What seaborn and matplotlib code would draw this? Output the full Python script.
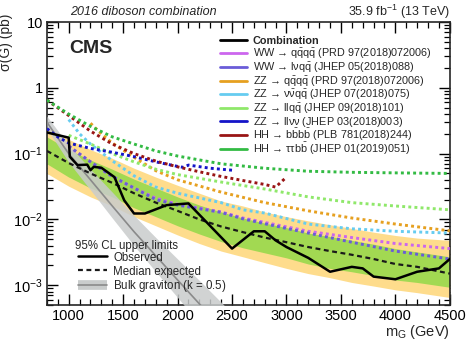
import numpy as np
import pandas as pd
import matplotlib
matplotlib.use("Agg")
import matplotlib.pyplot as plt
import seaborn as sns
from matplotlib.lines import Line2D
from matplotlib.ticker import MultipleLocator, FixedLocator, FixedFormatter, LogLocator, NullFormatter

# ---------------- data ----------------
obs_mass = [800, 1000, 1010, 1080, 1170, 1200, 1230, 1300, 1420, 1510, 1600, 1700, 1900, 2100,
            2500, 2700, 2800, 2900, 3000, 3200, 3400, 3600, 3700, 3800, 4000, 4200, 4400, 4500]
obs_limit = [0.21, 0.175, 0.09, 0.067, 0.068, 0.056, 0.063, 0.061, 0.044, 0.0195, 0.0123, 0.0123,
             0.0165, 0.0175, 0.0036, 0.0066, 0.0066, 0.0048, 0.0038, 0.0026, 0.0016, 0.0019,
             0.0018, 0.00135, 0.00123, 0.0016, 0.0018, 0.0025]

exp_mass = [800, 1000, 1200, 1400, 1600, 1800, 2000, 2200, 2400, 2600, 2800, 3000, 3200, 3400,
            3600, 3800, 4000, 4200, 4500]
exp_limit = [0.11, 0.072, 0.050, 0.036, 0.025, 0.018, 0.0135, 0.0100, 0.0078, 0.0064, 0.0053,
             0.0045, 0.0038, 0.0033, 0.0029, 0.0025, 0.0021, 0.0019, 0.0015]
exp_up1 = [0.18, 0.115, 0.080, 0.058, 0.041, 0.030, 0.022, 0.0165, 0.013, 0.0105, 0.0088, 0.0075,
           0.0062, 0.0055, 0.0048, 0.0042, 0.0036, 0.0032, 0.0027]
exp_dn1 = [0.07, 0.044, 0.030, 0.022, 0.015, 0.011, 0.0080, 0.0060, 0.0046, 0.0037, 0.0031,
           0.0026, 0.0021, 0.0018, 0.0016, 0.0014, 0.0012, 0.0011, 0.00093]
exp_up2 = [0.26, 0.165, 0.115, 0.085, 0.060, 0.044, 0.033, 0.025, 0.019, 0.016, 0.013, 0.011,
           0.0095, 0.0083, 0.0073, 0.0064, 0.0057, 0.0052, 0.0048]
exp_dn2 = [0.05, 0.032, 0.022, 0.016, 0.011, 0.008, 0.0058, 0.0043, 0.0033, 0.0027, 0.0022,
           0.0018, 0.0015, 0.0013, 0.0011, 0.00097, 0.00085, 0.00077, 0.00065]

grav_mass = [800, 1000, 1200, 1400, 1600, 1800, 2000, 2200, 2400, 2600]
grav_xsec = [0.30, 0.10, 0.040, 0.016, 0.0065, 0.0028, 0.0012, 0.00052, 0.00023, 0.0001]
grav_up = [0.37, 0.135, 0.058, 0.026, 0.0115, 0.0053, 0.0025, 0.00118, 0.00055, 0.00025]
grav_dn = [0.24, 0.074, 0.028, 0.0105, 0.0040, 0.0016, 0.00065, 0.00026, 0.00011, 0.00005]

ww_qqqq_mass = [1000, 1200, 1400, 1600, 1800, 2000, 2400, 2600, 2800, 3200, 3600, 4000, 4500]
ww_qqqq_lim = [0.13, 0.075, 0.045, 0.030, 0.021, 0.017, 0.013, 0.0105, 0.009, 0.0066, 0.0053, 0.0043, 0.0036]
ww_lvqq_mass = [1000, 1200, 1400, 1600, 1800, 2000, 2400, 2600, 2800, 3200, 3600, 4000, 4500]
ww_lvqq_lim = [0.13, 0.075, 0.045, 0.030, 0.020, 0.0165, 0.0128, 0.0102, 0.0086, 0.0062, 0.0045, 0.0033, 0.0025]
zz_qqqq_mass = [1200, 1300, 1400, 1600, 1800, 2000, 2400, 2800, 3200, 3600, 4000, 4500]
zz_qqqq_lim = [0.29, 0.20, 0.145, 0.088, 0.055, 0.040, 0.026, 0.018, 0.0135, 0.0105, 0.0085, 0.0067]
zz_vvqq_mass = [1000, 1100, 1200, 1400, 1600, 1800, 2000, 2400, 2600, 2800, 3200, 3600, 4000, 4500]
zz_vvqq_lim = [0.33, 0.20, 0.14, 0.078, 0.046, 0.031, 0.025, 0.018, 0.014, 0.0125, 0.0085, 0.0072, 0.0066, 0.0062]
zz_llqq_mass = [1000, 1200, 1400, 1600, 1800, 2000, 2400, 2800, 3200, 3600, 4000, 4500]
zz_llqq_lim = [0.19, 0.14, 0.10, 0.075, 0.058, 0.048, 0.037, 0.029, 0.022, 0.018, 0.016, 0.014]
zz_llvv_mass = [800, 900, 1000, 1200, 1400, 1600, 1800, 2000, 2050, 2100, 2300, 2500]
zz_llvv_lim = [0.24, 0.18, 0.145, 0.12, 0.105, 0.09, 0.075, 0.064, 0.062, 0.067, 0.060, 0.056]
hh_bbbb_mass = [800, 1000, 1200, 1400, 1600, 1800, 2000, 2200, 2400, 2600, 2800, 2900, 3000]
hh_bbbb_lim = [0.65, 0.38, 0.22, 0.14, 0.10, 0.077, 0.063, 0.053, 0.045, 0.039, 0.034, 0.031, 0.044]
hh_ttbb_mass = [800, 1000, 1200, 1400, 1600, 1800, 2000, 2400, 2800, 3200, 3600, 4000, 4500]
hh_ttbb_lim = [0.65, 0.40, 0.26, 0.18, 0.14, 0.11, 0.092, 0.070, 0.060, 0.054, 0.052, 0.051, 0.050]

channel_labels = [
    r"WW → $\mathrm{q\bar{q}q\bar{q}}$ (PRD 97(2018)072006)",
    r"WW → $\mathrm{l\nu q\bar{q}}$ (JHEP 05(2018)088)",
    r"ZZ → $\mathrm{q\bar{q}q\bar{q}}$ (PRD 97(2018)072006)",
    r"ZZ → $\mathrm{\nu\bar{\nu}q\bar{q}}$ (JHEP 07(2018)075)",
    r"ZZ → $\mathrm{llq\bar{q}}$ (JHEP 09(2018)101)",
    r"ZZ → $\mathrm{ll\nu\nu}$ (JHEP 03(2018)003)",
    r"HH → $\mathrm{b\bar{b}b\bar{b}}$ (PLB 781(2018)244)",
    r"HH → $\mathrm{\tau\tau b\bar{b}}$ (JHEP 01(2019)051)",
]
channel_colors = ["#cc66ee", "#6a5cd8", "#e6a020", "#66ccf0", "#8fe86a", "#1414c8", "#991515", "#33bb44"]
channel_data = [
    (ww_qqqq_mass, ww_qqqq_lim), (ww_lvqq_mass, ww_lvqq_lim), (zz_qqqq_mass, zz_qqqq_lim),
    (zz_vvqq_mass, zz_vvqq_lim), (zz_llqq_mass, zz_llqq_lim), (zz_llvv_mass, zz_llvv_lim),
    (hh_bbbb_mass, hh_bbbb_lim), (hh_ttbb_mass, hh_ttbb_lim),
]

# ---------------- style ----------------
sns.set_theme(style="ticks")
plt.rcParams["font.family"] = ["Liberation Sans", "DejaVu Sans"]
plt.rcParams["mathtext.fontset"] = "custom"
plt.rcParams["mathtext.rm"] = "Liberation Sans"
plt.rcParams["mathtext.it"] = "Liberation Sans:italic"
plt.rcParams["mathtext.bf"] = "Liberation Sans:bold"
plt.rcParams["mathtext.sf"] = "Liberation Sans"
plt.rcParams["axes.linewidth"] = 1.2

fig = plt.figure(figsize=(4.74, 3.40), dpi=100)
ax = fig.add_axes([0.099, 0.103, 0.850, 0.832])

yellow = "#fedc8c"
green = "#a2d952"
gray_band = "#c9cccc"
gray_line = "#8a8a8a"

ax.fill_between(exp_mass, exp_dn2, exp_up2, color=yellow, lw=0, zorder=1)
ax.fill_between(exp_mass, exp_dn1, exp_up1, color=green, lw=0, zorder=2)
ax.fill_between(grav_mass, grav_dn, grav_up, color=gray_band, alpha=0.85, lw=0, zorder=3)
sns.lineplot(x=grav_mass, y=grav_xsec, ax=ax, color=gray_line, lw=1.2, zorder=4)

dot_style = (0, (1, 1.1))
for (m, v), c in zip(channel_data, channel_colors):
    sns.lineplot(x=m, y=v, ax=ax, color=c, lw=2.1, linestyle=dot_style, zorder=5,
                 sort=False, estimator=None)

dash_style = (0, (2.2, 1.6))
sns.lineplot(x=exp_mass, y=exp_limit, ax=ax, color="#1a1a1a", lw=1.6, linestyle=dash_style,
             zorder=6, sort=False, estimator=None)
sns.lineplot(x=obs_mass, y=obs_limit, ax=ax, color="black", lw=1.8, zorder=7,
             sort=False, estimator=None)

ax.set_yscale("log")
ax.set_xlim(800, 4500)
ax.set_ylim(5e-4, 10)

ax.xaxis.set_major_locator(MultipleLocator(500))
ax.xaxis.set_minor_locator(MultipleLocator(100))
ax.yaxis.set_major_locator(FixedLocator([1e-3, 1e-2, 1e-1, 1, 10]))
ax.yaxis.set_major_formatter(FixedFormatter([r"$10^{-3}$", r"$10^{-2}$", r"$10^{-1}$", "1", "10"]))
ax.yaxis.set_minor_locator(LogLocator(base=10, subs=np.arange(2, 10), numticks=20))
ax.yaxis.set_minor_formatter(NullFormatter())
ax.tick_params(which="both", direction="in", top=True, right=True, labelsize=10.5, colors="black")
ax.tick_params(which="major", length=8, width=1.0)
ax.tick_params(which="minor", length=4, width=0.9)
ax.tick_params(axis="x", pad=3)
ax.tick_params(axis="y", pad=3)

ax.set_xlabel(r"$\mathrm{m_G}$ (GeV)", fontsize=10.5, ha="right")
ax.xaxis.set_label_coords(1.0, -0.062)
ax.xaxis.label.set_va("top")
ax.set_ylabel("σ(G) (pb)", fontsize=10, ha="right")
ax.yaxis.set_label_coords(-0.085, 1.03)

fig.text(0.148, 0.965, "2016 diboson combination", fontsize=9, style="italic", va="center", ha="left")
fig.text(0.949, 0.965, r"35.9 fb$^{-1}$ (13 TeV)", fontsize=9, va="center", ha="right")
ax.text(0.055, 0.905, "CMS", transform=ax.transAxes, fontsize=14, fontweight="bold",
        va="center", ha="left")

# ---------------- upper legend (drawn by hand for exact row spacing) ----------------
leg_x0, leg_x1, leg_tx = 0.429, 0.496, 0.511
row_y0, row_dy = 0.938, 0.0482
leg_colors = ["black"] + channel_colors
leg_labels = ["Combination"] + channel_labels
for i, (c, lab) in enumerate(zip(leg_colors, leg_labels)):
    y = row_y0 - i * row_dy
    ax.add_line(Line2D([leg_x0, leg_x1], [y, y], color=c, lw=2.0, transform=ax.transAxes,
                       clip_on=False, zorder=10))
    ax.text(leg_tx, y - 0.014, lab, transform=ax.transAxes, fontsize=7.8, va="baseline", ha="left",
            fontweight="bold" if i == 0 else "normal", zorder=10)

# ---------------- lower legend ----------------
ax.text(0.069, 0.214 - 0.016, "95% CL upper limits", transform=ax.transAxes, fontsize=8.3,
        va="baseline", ha="left", zorder=10)
lx0, lx1, ltx = 0.077, 0.149, 0.164
rows = [0.172, 0.122, 0.069]
ax.add_line(Line2D([lx0, lx1], [rows[0]] * 2, color="black", lw=1.8, transform=ax.transAxes, zorder=10))
ax.add_line(Line2D([lx0, lx1], [rows[1]] * 2, color="#1a1a1a", lw=1.6, linestyle=dash_style,
                   transform=ax.transAxes, zorder=10))
ax.add_line(Line2D([lx0, lx1], [rows[2]] * 2, color=gray_band, lw=7, solid_capstyle="butt",
                   transform=ax.transAxes, zorder=10))
ax.add_line(Line2D([lx0, lx1], [rows[2]] * 2, color=gray_line, lw=1.2, transform=ax.transAxes, zorder=11))
for y, lab in zip(rows, ["Observed", "Median expected", r"Bulk graviton ($\mathrm{\tilde{k}}$ = 0.5)"]):
    ax.text(ltx, y - 0.015, lab, transform=ax.transAxes, fontsize=8.3, va="baseline", ha="left", zorder=10)

fig.savefig("out.png", dpi=100)
